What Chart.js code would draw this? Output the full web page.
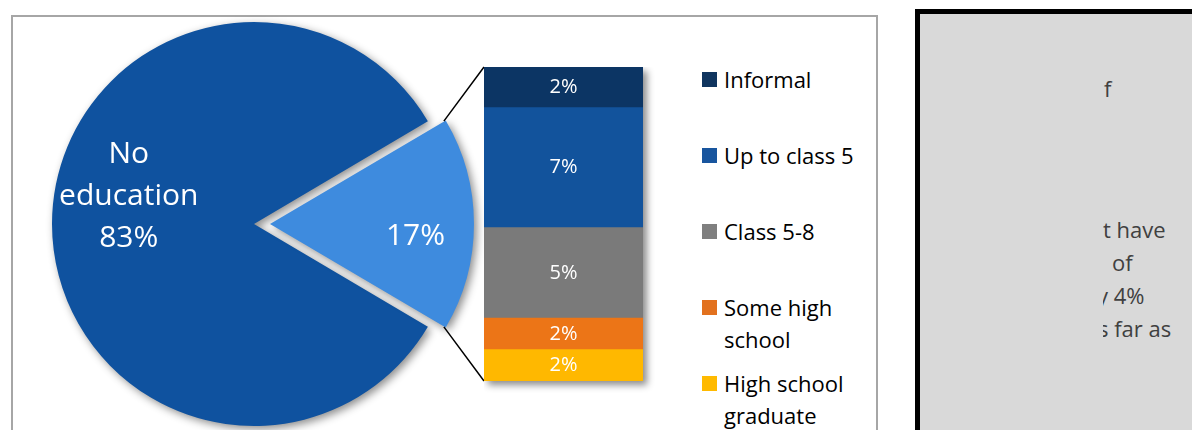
<!DOCTYPE html>
<html>
<head>
<meta charset="utf-8">
<script src="https://cdn.jsdelivr.net/npm/chart.js@4.4.1/dist/chart.umd.min.js"></script>
<style>
    html, body { margin: 0; padding: 0; background: #fff; overflow: hidden; }
    #page { position: relative; width: 1192px; height: 430px; overflow: hidden; font-family: "Open Sans", sans-serif; }
    #frame { position: absolute; left: 11px; top: 15px; width: 863px; height: 440px; border: 2px solid #a6a6a6; background: #fff; }
    #pieCanvas { position: absolute; left: 0; top: 0; }
    #barCanvas { position: absolute; left: 484px; top: 67px; }
    .legend-item { position: absolute; left: 702px; width: 160px; }
    .legend-box { position: absolute; left: 0; top: 9px; width: 15px; height: 15px; }
    .legend-text { position: absolute; left: 22px; top: 0; width: 145px; font-size: 22px; line-height: 32px; color: #000; }
    #panel { position: absolute; left: 915px; top: 9px; width: 300px; height: 460px; background: #d9d9d9; border-left: 5px solid #000; border-top: 5px solid #000; }
    #panelClip { position: absolute; left: 1103px; top: 60px; width: 89px; height: 300px; overflow: hidden; }
    .note { position: absolute; font-size: 22px; line-height: 26px; color: #404040; white-space: pre; }
</style>
</head>
<body>
<div id="page">
    <div id="frame"></div>
    <canvas id="pieCanvas" width="508" height="448"></canvas>
    <canvas id="barCanvas" width="171" height="326"></canvas>
    <div id="legend"></div>
    <div id="panel"></div>
    <div id="panelClip"></div>
</div>
<script>
// Pie: share with no education vs some education (%)
const pieLabels = ['No education', 'Some education'];
const pieValues = [83, 17];
const pieColors = ['#0f529f', '#3e8bde'];

// Breakdown of the 17% (top to bottom of the bar)
const barLabels = ['Informal', 'Up to class 5', 'Class 5-8', 'Some high school', 'High school graduate'];
const barValues = [2.2, 6.5, 4.9, 1.7, 1.7];
const barColors = ['#0c3564', '#12539c', '#7a7a7a', '#ec7517', '#ffb800'];
const legendColors = ['#10355f', '#18559e', '#7f7f7f', '#e2711e', '#ffba00'];

// Text of the partly hidden note box on the right
const noteLines = ['f', 't have', 'of', 'y 4%', 's far as'];

let barChart = null;
let pieChart = null;

/**
 * Shadow under the whole stacked bar, plus the % labels
 */
const barShadow = {
    id: 'barShadow',
    beforeDatasetsDraw(chart) {
        const ctx = chart.ctx;
        const a = chart.chartArea;
        ctx.save();
        ctx.shadowColor = 'rgba(0,0,0,0.45)';
        ctx.shadowBlur = 7;
        ctx.shadowOffsetX = 4;
        ctx.shadowOffsetY = 4;
        ctx.fillStyle = '#ffffff';
        ctx.fillRect(a.left, a.top, a.right - a.left, a.bottom - a.top);
        ctx.restore();
    },
    afterDatasetsDraw(chart) {
        const ctx = chart.ctx;
        ctx.save();
        ctx.fillStyle = '#ffffff';
        ctx.font = '20px "Open Sans"';
        ctx.textAlign = 'center';
        ctx.textBaseline = 'middle';
        chart.data.datasets.forEach((ds, i) => {
            const bar = chart.getDatasetMeta(i).data[0];
            ctx.fillText(Math.round(ds.data[0]) + '%', bar.x, (bar.y + bar.base) / 2);
        });
        ctx.restore();
    }
};

/**
 * Pie shadow, labels and connector lines to the bar
 */
const pieExtras = {
    id: 'pieExtras',
    beforeDatasetsDraw(chart) {
        const ctx = chart.ctx;
        ctx.save();
        ctx.shadowColor = 'rgba(0,0,0,0.45)';
        ctx.shadowBlur = 8;
        ctx.shadowOffsetX = 3;
        ctx.shadowOffsetY = 3;
    },
    afterDatasetsDraw(chart) {
        const ctx = chart.ctx;
        ctx.restore();

        const arcs = chart.getDatasetMeta(0).data;
        const main = arcs[0];
        const part = arcs[1];
        const R = part.outerRadius;
        const mid = (part.startAngle + part.endAngle) / 2;
        const off = (part.options.offset || 0) / 4;
        const tx = Math.cos(mid) * off;
        const ty = Math.sin(mid) * off;

        ctx.save();
        ctx.fillStyle = '#ffffff';
        ctx.textAlign = 'center';
        ctx.textBaseline = 'middle';
        ctx.font = '30px "Open Sans"';
        const lines = pieLabels[0].split(' ').concat([pieValues[0] + '%']);
        lines.forEach((t, i) => {
            ctx.fillText(t, main.x - R * 0.62, main.y - 70 + i * 42);
        });
        ctx.fillText(pieValues[1] + '%', part.x + tx + Math.cos(mid) * R * 0.72, part.y + ty + 12);

        // connector lines from the slice corners to the bar
        if (barChart) {
            const canvas = document.getElementById('barCanvas');
            const bx = canvas.offsetLeft;
            const by = canvas.offsetTop;
            const metas = barChart.data.datasets.map((d, i) => barChart.getDatasetMeta(i).data[0]);
            const topBar = metas[metas.length - 1];
            const bottomBar = metas[0];
            const left = bx + topBar.x - topBar.width / 2;
            const c1x = part.x + tx + Math.cos(part.startAngle) * R;
            const c1y = part.y + ty + Math.sin(part.startAngle) * R;
            const c2x = part.x + tx + Math.cos(part.endAngle) * R;
            const c2y = part.y + ty + Math.sin(part.endAngle) * R;
            ctx.strokeStyle = '#000000';
            ctx.lineWidth = 1.5;
            ctx.beginPath();
            ctx.moveTo(c1x, c1y);
            ctx.lineTo(left, by + topBar.y);
            ctx.moveTo(c2x, c2y);
            ctx.lineTo(left, by + bottomBar.base);
            ctx.stroke();
        }
        ctx.restore();
    }
};

function initBarChart() {
    const total = barValues.reduce((a, b) => a + b, 0);
    // stacking starts at the bottom, so feed the series in reverse
    const datasets = barLabels.map((label, i) => ({
        label: label,
        data: [barValues[i]],
        backgroundColor: barColors[i],
        borderWidth: 0
    })).reverse();

    barChart = new Chart(document.getElementById('barCanvas'), {
        type: 'bar',
        data: { labels: [''], datasets: datasets },
        options: {
            responsive: false,
            animation: false,
            barPercentage: 1,
            categoryPercentage: 1,
            layout: { padding: { left: 0, top: 0, right: 12, bottom: 12 } },
            plugins: { legend: { display: false }, tooltip: { enabled: false } },
            scales: {
                x: { stacked: true, display: false },
                y: { stacked: true, display: false, min: 0, max: total }
            }
        },
        plugins: [barShadow]
    });
}

function initPieChart() {
    pieChart = new Chart(document.getElementById('pieCanvas'), {
        type: 'pie',
        data: {
            labels: pieLabels,
            datasets: [{
                data: pieValues,
                backgroundColor: pieColors,
                borderWidth: 0,
                offset: [0, 64]
            }]
        },
        options: {
            responsive: false,
            animation: false,
            radius: 202,
            rotation: 90 + pieValues[1] * 3.6 / 2,
            layout: { padding: 0 },
            plugins: { legend: { display: false }, tooltip: { enabled: false } }
        },
        plugins: [pieExtras]
    });
}

function buildLegend() {
    const legend = document.getElementById('legend');
    barLabels.forEach((label, i) => {
        const item = document.createElement('div');
        item.className = 'legend-item';
        item.style.top = (63 + i * 76) + 'px';
        item.innerHTML = '<div class="legend-box" style="background:' + legendColors[i] + '"></div>' +
            '<div class="legend-text">' + label + '</div>';
        legend.appendChild(item);
    });
}

function buildNote() {
    const clip = document.getElementById('panelClip');
    const tops = [15, 156, 189, 222, 255];
    const lefts = [1, 0, 9, -6, -5];
    noteLines.forEach((t, i) => {
        const span = document.createElement('div');
        span.className = 'note';
        span.style.top = tops[i] + 'px';
        span.style.left = lefts[i] + 'px';
        span.textContent = t;
        clip.appendChild(span);
    });
}

initBarChart();
initPieChart();
buildLegend();
buildNote();
</script>
</body>
</html>
